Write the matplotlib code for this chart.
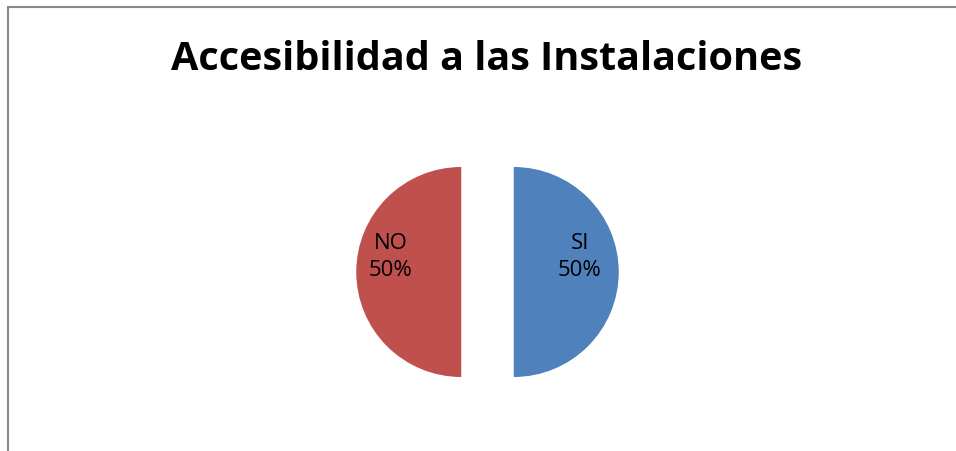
import matplotlib.pyplot as plt
from matplotlib.patches import Rectangle

labels = ['SI', 'NO']
values = [50, 50]
colors = ['#4f81bd', '#c0504d']

fig = plt.figure(figsize=(9.56, 4.52), dpi=100)
W, H = 956, 452

# chart border (only left/top visible in the crop)
fig.patches.append(Rectangle((7.5 / W, -0.05), 1.2, (H - 7.5) / H + 0.05,
                             transform=fig.transFigure, fill=False,
                             edgecolor='#898989', linewidth=1.5))

fig.text(487 / W, 1 - 60 / H, 'Accesibilidad a las Instalaciones',
         ha='center', va='center', fontsize=28.5, fontweight='bold',
         family='Open Sans')

# pie axes, radius about 105 px
size = 300
cx, cy = 487.5, H - 273
ax = fig.add_axes([(cx - size / 2) / W, (cy - size / 2) / H, size / W, size / H])
lim = size / 2 / 105

texts = [f'{l}\n{v}%' for l, v in zip(labels, values)]
wedges, _ = ax.pie(values, colors=colors, startangle=90, counterclock=False,
                   explode=[0.25, 0.25], radius=1, frame=True)
ax.set_xlim(-lim, lim)
ax.set_ylim(-lim, lim)
ax.set_aspect('equal')
ax.axis('off')

for w, t in zip(wedges, texts):
    cxw, cyw = w.center
    off = 0.63 if cxw > 0 else -0.67
    ax.text(cxw + off, cyw + 0.15, t, ha='center', va='center',
            fontsize=16, family='Open Sans', linespacing=1.4)

fig.savefig('out.png', dpi=100, facecolor='white')
